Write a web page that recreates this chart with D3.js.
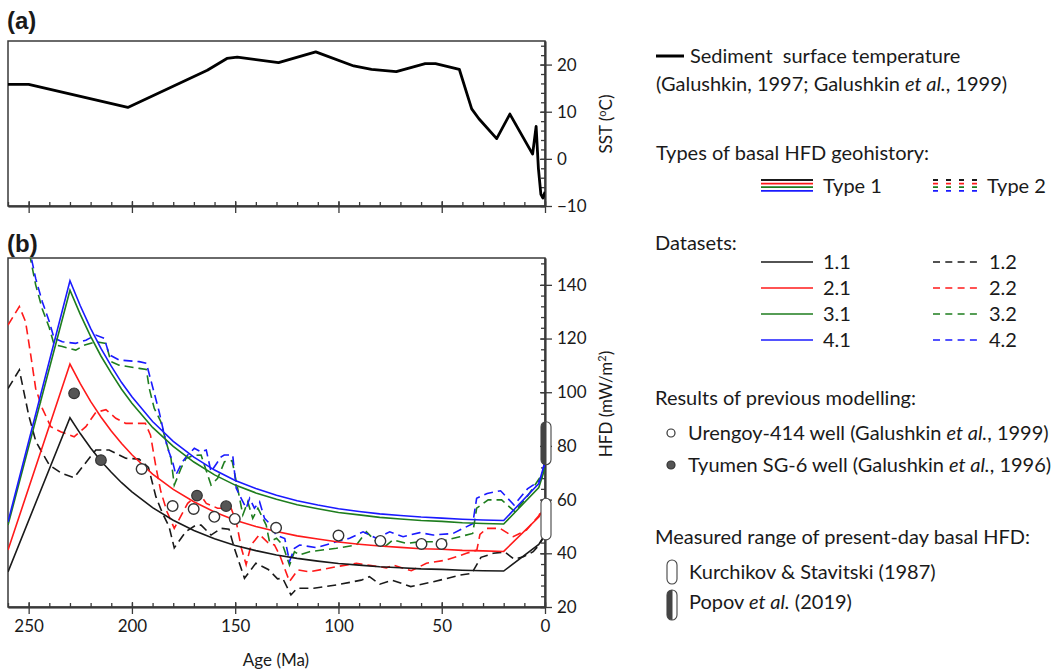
<!DOCTYPE html>
<html><head><meta charset="utf-8">
<script src="https://cdn.jsdelivr.net/npm/d3@7"></script>
<style>
body{margin:0;background:#fff;}
text{font-family:Lato,"Open Sans",sans-serif;fill:#1a1a1a;}
</style></head>
<body><svg id="c" width="1064" height="671"></svg>
<script>
// ---------- DATA ----------
const sstAge = [260, 250, 202, 163.5, 154, 149, 129, 111, 92.6, 84, 72, 58, 53, 41.5, 35.5, 32, 23.4, 17, 6, 4.3, 3.2, 2, 1, 0];
const sstVal = [15.8, 15.8, 10.9, 18.8, 21.3, 21.6, 20.4, 22.7, 19.7, 19, 18.5, 20.2, 20.2, 19, 10.6, 8.5, 4.3, 9.5, 1, 6.9, -2, -7.5, -8.3, -7];

const type1Age = [260, 230, 225, 220, 215, 210, 205, 200, 190, 180, 170, 160, 150, 140, 130, 120, 110, 100, 90, 80, 70, 60, 50, 40, 30, 20, 3, 0];
const s11 = [33.1, 90.5, 84.6, 79.2, 74.4, 70.2, 66.3, 62.9, 57.0, 52.3, 48.5, 45.4, 42.9, 41.0, 39.4, 38.1, 37.1, 36.2, 35.6, 35.0, 34.6, 34.2, 34.0, 33.7, 33.5, 33.4, 43.3, 47.0];
const s21 = [41.2, 110.5, 103.2, 96.6, 90.8, 85.6, 80.9, 76.7, 69.5, 63.8, 59.2, 55.4, 52.3, 50.0, 48.1, 46.5, 45.3, 44.2, 43.4, 42.7, 42.2, 41.7, 41.5, 41.1, 40.9, 40.7, 53.5, 57.6];
const s31 = [50.5, 138.0, 129.0, 120.8, 113.5, 107.1, 101.1, 95.9, 86.9, 79.8, 74.0, 69.2, 65.4, 62.5, 60.1, 58.1, 56.6, 55.2, 54.3, 53.4, 52.8, 52.2, 51.9, 51.4, 51.1, 50.9, 64.5, 71.7];
const s41 = [51.7, 141.5, 132.2, 123.8, 116.3, 109.7, 103.6, 98.3, 89.1, 81.7, 75.8, 71.0, 67.1, 64.1, 61.6, 59.6, 58.0, 56.6, 55.6, 54.7, 54.1, 53.5, 53.1, 52.7, 52.4, 52.2, 66.0, 74.0];

const d12 = [[260,101.4],[254.5,108.3],[250,91.5],[246.5,81.6],[240,72.9],[234,69.8],[228,68.2],[222,74.1],[217.5,78.5],[211,78.5],[203,75.4],[196.5,75.1],[192,72],[188.4,61.1],[185.2,54.9],[182,49.9],[179.5,42],[174,48],[169,50.5],[166.5,50.5],[161.7,46.8],[156.8,49.3],[153,49],[150.4,41.9],[145.5,30.7],[140,36.3],[134,34],[129.5,30.5],[127,30.7],[123,24.5],[120,27],[112,27],[101,28.2],[89,30],[85,31.3],[80,28.5],[74,30],[65,27.6],[54,29.4],[41,31.9],[35.5,32.5],[31,38.5],[25,40],[19.5,40.5],[15,37.8],[10.5,38.7],[5.7,40.6],[3,43],[0.5,46.2]];
const d22 = [[260,125],[254.5,131.9],[251.5,126.3],[249,113.9],[246.6,101.4],[243.4,94],[239.3,87.2],[234.5,85.3],[228,83.4],[222.3,87.2],[217.5,92.5],[212.6,93.5],[207.8,90.3],[203,88.4],[193.5,88.4],[191,84],[188.4,72.3],[186,63],[183,55.5],[179.5,49.3],[176,54.3],[173,58.6],[167.4,62.4],[164,58.6],[158.5,56.8],[152,56.8],[149.5,51.8],[147,41.9],[144.7,35.8],[142.3,43.1],[138.2,47],[134.2,44],[131,43.1],[128.5,39.4],[123.7,29.5],[119.7,33.8],[114,33.1],[101,35],[91.3,36.3],[85,35.5],[76.8,34.6],[73.6,35.6],[64.7,33.5],[57.4,36.3],[47.7,37.5],[38,40],[33,41.2],[31.5,47],[28.3,49.3],[21.8,49.3],[15.4,46.2],[8.9,48.7],[3,54],[0.5,58]];
const d32 = [[255,172],[248.5,147.4],[246.6,140],[243.4,131],[240,124],[237.7,117.8],[233.7,117],[227.2,115.7],[222.8,117.6],[217.5,118.8],[212.6,118.2],[210.2,111.4],[206.2,110.1],[196.5,108.9],[193,108.5],[191.6,101.4],[189.2,94],[186,89],[183.5,81.6],[181.1,75.4],[179.5,65.4],[176.2,71.7],[173.8,75.4],[169.8,76.5],[166.5,76.6],[161.7,65.4],[158.5,67.9],[155.2,74.1],[151.5,74.5],[148.8,64.2],[146.3,54.3],[143.9,59.2],[141.5,53],[139,56.8],[135,50.5],[133.4,44.3],[130,45.6],[127,43.1],[123.7,35.6],[121.3,40.6],[118.8,39.4],[114,40.6],[101,41.9],[91.3,43.1],[86.5,48],[78.4,41.9],[73.6,45],[67.1,43.7],[60.6,44.3],[50.9,44.3],[41.2,46.2],[35,47.4],[33.1,56.8],[27.5,59.9],[21,59.9],[14.6,55.5],[8.1,61.7],[1.6,69.2],[0.3,71.7]];
const d42 = [[255,175],[248.7,150],[246.6,142.4],[243.4,133.7],[240,126.3],[237.7,120.1],[233.7,118.8],[227.2,118.2],[222.3,119.4],[217.5,121.3],[213.4,120.1],[211,114],[206.2,112],[196.5,111.4],[193,110.8],[186.8,92.7],[184.3,84.1],[182.7,79.1],[180.3,74.1],[178.7,69.2],[175.5,74.1],[173,76.6],[169.8,79.1],[166.5,77.8],[164,78.5],[161.7,70.4],[156.8,75.9],[155.3,76.6],[151.2,76.6],[149.5,64.2],[147.1,60.5],[144.7,56.8],[143,60.5],[140.7,56.8],[138.2,59.2],[135.8,53],[132.6,50.5],[130.2,46.8],[126,45.5],[123.7,37],[121.3,41.9],[118.8,43.1],[110.7,42.1],[101,44.3],[94.6,45.6],[88.1,48],[81.6,45.6],[75.2,48],[68.7,46.2],[60.6,47.7],[54.2,46.8],[44.5,47.4],[39.6,49.3],[35,51],[33.1,60.5],[28,62.3],[21.5,63.3],[15,58],[8.5,64],[3.2,66.7],[1.6,68],[0.3,74.1]];

const urengoyAge = [195.3, 180.3, 170.1, 160.1, 150.2, 130.2, 100, 79.7, 59.8, 50.1];
const urengoyVal = [71.4, 57.6, 56.5, 53.6, 52.8, 49.5, 46.6, 44.6, 43.5, 43.5];
const tyumenAge = [228, 215, 168.5, 154.4];
const tyumenVal = [99.6, 74.7, 61.5, 57.6];

const kurchikovRange = [45, 60.5];
const popovRange = [73, 89];

const seriesNames = ["1.1","2.1","3.1","4.1"];
const seriesNames2 = ["1.2","2.2","3.2","4.2"];
const colors = ["#1a1a1a","#ff1a1a","#1e7d1e","#1a1aff"];

const ageTicks = [250, 200, 150, 100, 50, 0];
const sstTicks = [-10, 0, 10, 20];
const hfdTicks = [20, 40, 60, 80, 100, 120, 140];

// ---------- LAYOUT ----------
const svg = d3.select("#c");
const L = 8, R = 545;
const x = d3.scaleLinear().domain([260, 0]).range([L, R]);
const ya = d3.scaleLinear().domain([-10, 25]).range([206, 41]);
const yb = d3.scaleLinear().domain([20, 150]).range([607, 258]);
const axisCol = "#3a3a3a";

const defs = svg.append("defs");
defs.append("clipPath").attr("id","clipA").append("rect").attr("x",L).attr("y",41).attr("width",R-L).attr("height",165);
defs.append("clipPath").attr("id","clipB").append("rect").attr("x",L).attr("y",258).attr("width",R-L).attr("height",349);

// panel labels
svg.append("text").attr("x",7).attr("y",29).style("font-family","'Liberation Sans',Arial,sans-serif").style("font-weight","bold").style("font-size","24px").text("(a)");
svg.append("text").attr("x",7).attr("y",252).style("font-family","'Liberation Sans',Arial,sans-serif").style("font-weight","bold").style("font-size","24px").text("(b)");

function frame(yTop, yBot){
  svg.append("path").attr("d",`M${R},${yTop}H${L}V${yBot}H${R}Z`).attr("fill","none").attr("stroke",axisCol).attr("stroke-width",1.5);
}
frame(41,206);
frame(258,607);

function minorRange(a,b,step){const r=[];for(let v=a;v<=b+1e-9;v+=step) r.push(+v.toFixed(6));return r;}

function xAxes(yPos, labels){
  const g = svg.append("g").attr("transform",`translate(0,${yPos})`);
  g.append("g").call(d3.axisBottom(x).tickValues(minorRange(0,260,10)).tickSize(-4).tickSizeOuter(0).tickFormat(""));
  g.append("g").call(d3.axisBottom(x).tickValues(ageTicks).tickSize(-5).tickSizeOuter(0).tickFormat(""));
  const gm = g.append("g").call(d3.axisBottom(x).tickValues(ageTicks).tickSize(7).tickSizeOuter(0).tickPadding(6).tickFormat(labels?d3.format("d"):""));
  g.selectAll("path.domain").attr("stroke",axisCol).attr("stroke-width",1.5);
  g.selectAll("line").attr("stroke",axisCol).attr("stroke-width",1.3);
  gm.selectAll("text").style("font-family","Lato,sans-serif").style("font-size","17px").attr("fill","#1a1a1a");
}
xAxes(206,false);
xAxes(607,true);

function yAxis(scale, majors, minStep, lo, hi){
  const g = svg.append("g").attr("transform",`translate(${R},0)`);
  g.append("g").call(d3.axisRight(scale).tickValues(minorRange(lo,hi,minStep)).tickSize(-4).tickSizeOuter(0).tickFormat(""));
  g.append("g").call(d3.axisRight(scale).tickValues(majors).tickSize(-5).tickSizeOuter(0).tickFormat(""));
  const gm = g.append("g").call(d3.axisRight(scale).tickValues(majors).tickSize(7).tickSizeOuter(0).tickPadding(5).tickFormat(d=>d<0?"\u221210":d));
  g.selectAll("path.domain").attr("stroke",axisCol).attr("stroke-width",1.5);
  g.selectAll("line").attr("stroke",axisCol).attr("stroke-width",1.3);
  gm.selectAll("text").style("font-family","Lato,sans-serif").style("font-size","17px").attr("fill","#1a1a1a");
}
yAxis(ya, sstTicks, 2, -10, 24);
yAxis(yb, hfdTicks, 4, 20, 148);

// axis titles
svg.append("text").attr("transform","translate(612,124) rotate(-90)").attr("text-anchor","middle").style("font-size","17px").html("SST (<tspan baseline-shift=\"super\" font-size=\"11px\">o</tspan>C)");
svg.append("text").attr("transform","translate(612,404) rotate(-90)").attr("text-anchor","middle").style("font-size","17px").html("HFD (mW/m<tspan baseline-shift=\"super\" font-size=\"11px\">2</tspan>)");
svg.append("text").attr("x",276).attr("y",666).attr("text-anchor","middle").style("font-size","17px").text("Age (Ma)");

// SST line
const lineA = d3.line().x(d=>x(d[0])).y(d=>ya(d[1]));
svg.append("path").attr("clip-path","url(#clipA)").datum(sstAge.map((a,i)=>[a,sstVal[i]]))
  .attr("d",lineA).attr("fill","none").attr("stroke","#000").attr("stroke-width",2.8).attr("stroke-linejoin","round");

// Panel b lines
const lineB = d3.line().x(d=>x(d[0])).y(d=>yb(d[1]));
const gb = svg.append("g").attr("clip-path","url(#clipB)");
const dashed = [d12,d22,d32,d42];
dashed.forEach((ser,i)=>{
  gb.append("path").datum(ser).attr("d",lineB).attr("fill","none").attr("stroke",colors[i]).attr("stroke-width",1.6).attr("stroke-dasharray","9,5");
});
[s11,s21,s31,s41].forEach((vals,i)=>{
  gb.append("path").datum(type1Age.map((a,k)=>[a,vals[k]])).attr("d",lineB).attr("fill","none").attr("stroke",colors[i]).attr("stroke-width",1.6);
});

// markers
urengoyAge.forEach((a,i)=>{
  svg.append("circle").attr("cx",x(a)).attr("cy",yb(urengoyVal[i])).attr("r",5.3).attr("fill","#fff").attr("stroke","#333").attr("stroke-width",1.4);
});
tyumenAge.forEach((a,i)=>{
  svg.append("circle").attr("cx",x(a)).attr("cy",yb(tyumenVal[i])).attr("r",5.3).attr("fill","#555").attr("stroke","#333").attr("stroke-width",1.2);
});

// capsules
function capsule(cx, yTop, yBot, w, filled){
  const g = svg.append("g");
  const id = "cap"+Math.round(cx)+"_"+Math.round(yTop);
  defs.append("clipPath").attr("id",id).append("rect").attr("x",cx-w/2).attr("y",yTop).attr("width",w).attr("height",yBot-yTop).attr("rx",w/2).attr("ry",w/2);
  g.append("rect").attr("x",cx-w/2).attr("y",yTop).attr("width",w).attr("height",yBot-yTop).attr("rx",w/2).attr("fill","#fff");
  if(filled){
    g.append("rect").attr("clip-path",`url(#${id})`).attr("x",cx-w/2).attr("y",yTop).attr("width",w*0.55).attr("height",yBot-yTop).attr("fill","#444");
  }
  g.append("rect").attr("x",cx-w/2).attr("y",yTop).attr("width",w).attr("height",yBot-yTop).attr("rx",w/2).attr("fill","none").attr("stroke","#444").attr("stroke-width",1.1);
}
capsule(x(0)+1, yb(kurchikovRange[1]), yb(kurchikovRange[0]), 10, false);
capsule(x(0)+1, yb(popovRange[1]), yb(popovRange[0]), 10, true);

// ---------- LEGEND ----------
const fs = "20px";
function txt(xp, cy, s){ return svg.append("text").attr("x",xp).attr("y",cy+7).style("font-size",fs).html(s); }
svg.append("line").attr("x1",656).attr("x2",684).attr("y1",56).attr("y2",56).attr("stroke","#000").attr("stroke-width",3);
txt(690, 56, "Sediment&#160; surface temperature");
txt(656, 84, "(Galushkin, 1997; Galushkin <tspan font-style=\"italic\">et al.</tspan>, 1999)");
txt(656, 153, "Types of basal HFD geohistory:");
colors.forEach((c,i)=>{
  svg.append("line").attr("x1",761).attr("x2",813).attr("y1",180+i*3.6).attr("y2",180+i*3.6).attr("stroke",c).attr("stroke-width",1.8);
  svg.append("line").attr("x1",933).attr("x2",977).attr("y1",180+i*3.6).attr("y2",180+i*3.6).attr("stroke",c).attr("stroke-width",1.8).attr("stroke-dasharray","5,8");
});
txt(823, 186, "Type 1");
txt(987, 186, "Type 2");
txt(655, 243, "Datasets:");
seriesNames.forEach((n,i)=>{
  const yy = 262 + i*26;
  svg.append("line").attr("x1",761).attr("x2",813).attr("y1",yy).attr("y2",yy).attr("stroke",colors[i]).attr("stroke-width",1.6);
  txt(823, yy, n);
  svg.append("line").attr("x1",933).attr("x2",977).attr("y1",yy).attr("y2",yy).attr("stroke",colors[i]).attr("stroke-width",1.6).attr("stroke-dasharray","7,5.3");
  txt(989, yy, seriesNames2[i]);
});
txt(655, 398, "Results of previous modelling:");
svg.append("circle").attr("cx",671).attr("cy",433).attr("r",4).attr("fill","#fff").attr("stroke","#333").attr("stroke-width",1.2);
txt(688, 433, "Urengoy-414 well (Galushkin <tspan font-style=\"italic\">et al.</tspan>, 1999)");
svg.append("circle").attr("cx",671).attr("cy",465).attr("r",4).attr("fill","#555").attr("stroke","#333").attr("stroke-width",1.2);
txt(688, 465, "Tyumen SG-6 well (Galushkin <tspan font-style=\"italic\">et al.</tspan>, 1996)");
txt(655, 537, "Measured range of present-day basal HFD:");
capsule(672, 560, 584, 10, false);
txt(689, 572, "Kurchikov &amp; Stavitski (1987)");
capsule(672, 590, 620, 10, true);
txt(689, 602, "Popov <tspan font-style=\"italic\">et al.</tspan> (2019)");
</script></body></html>
